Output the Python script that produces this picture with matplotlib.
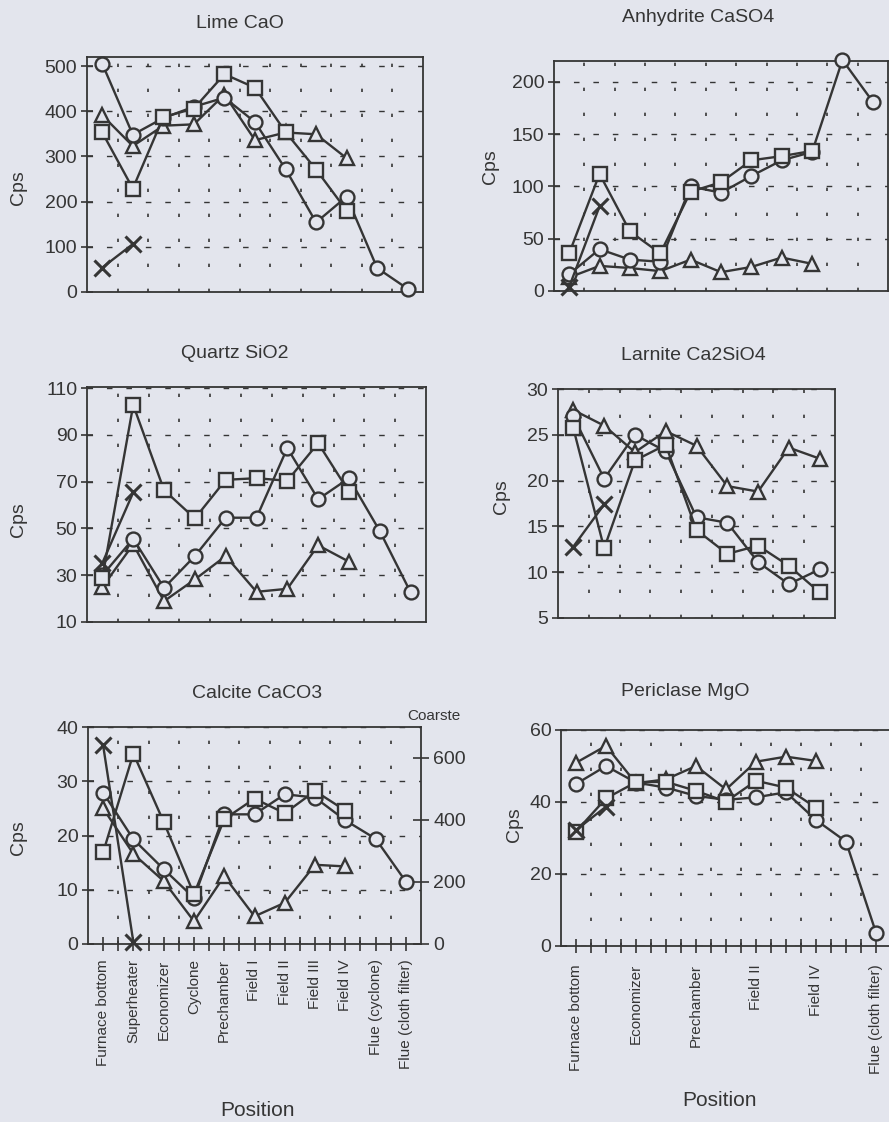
import numpy as np
import matplotlib
matplotlib.use("Agg")
import matplotlib.pyplot as plt
from matplotlib.ticker import FixedLocator

nan = np.nan

categories = ["Furnace bottom", "Superheater", "Economizer", "Cyclone", "Prechamber",
              "Field I", "Field II", "Field III", "Field IV", "Flue (cyclone)",
              "Flue (cloth filter)"]

# Lime CaO
lime_circle = [505, 348, 385, 410, 430, 376, 272, 154, 211, 53, 7]
lime_square = [353, 229, 387, 406, 482, 452, 354, 271, 180, nan, nan]
lime_triangle = [391, 323, 368, 371, 437, 336, 353, 349, 296, nan, nan]
lime_x = [54, 106, nan, nan, nan, nan, nan, nan, nan, nan, nan]

# Anhydrite CaSO4
anh_circle = [16, 40, 30, 28, 100, 94, 110, 125, 133, 221, 181]
anh_square = [36, 112, 57, 36, 95, 104, 125, 129, 134, nan, nan]
anh_triangle = [13, 24, 22, 19, 30, 18, 23, 32, 26, nan, nan]
anh_x = [4, 81, nan, nan, nan, nan, nan, nan, nan, nan, nan]

# Quartz SiO2
qtz_circle = [30, 45.6, 24.6, 38.2, 54.6, 54.6, 84.4, 62.5, 71.5, 48.9, 22.7]
qtz_square = [29, 102.8, 66.4, 54.3, 70.8, 71.5, 70.4, 86.5, 65.7, nan, nan]
qtz_triangle = [25, 43.2, 18.9, 28.2, 38.2, 22.9, 24.2, 42.8, 35.8, nan, nan]
qtz_x = [35.3, 65.4, nan, nan, nan, nan, nan, nan, nan, nan, nan]

# Larnite Ca2SiO4 (first 9 positions)
lar_circle = [27.0, 20.2, 25.0, 23.2, 16.0, 15.4, 11.1, 8.7, 10.3]
lar_square = [25.7, 12.6, 22.2, 23.9, 14.6, 12.0, 12.9, 10.7, 7.8]
lar_triangle = [27.7, 26.0, 23.1, 25.4, 23.8, 19.4, 18.8, 23.6, 22.4]
lar_x = [12.8, 17.4, nan, nan, nan, nan, nan, nan, nan]

# Calcite CaCO3
cal_circle = [27.9, 19.3, 13.8, 8.5, 23.9, 23.9, 27.6, 27.0, 22.8, 19.4, 11.5]
cal_square = [16.9, 35.1, 22.5, 9.2, 23.0, 26.8, 24.1, 28.2, 24.6, nan, nan]
cal_triangle = [25.0, 16.6, 11.6, 4.2, 12.5, 5.1, 7.6, 14.6, 14.3, nan, nan]
cal_x = [36.6, 0.3, nan, nan, nan, nan, nan, nan, nan, nan, nan]

# Periclase MgO
per_circle = [45.0, 50.0, 45.4, 44.0, 41.7, 40.6, 41.3, 42.7, 35.0, 29.0, 3.7]
per_square = [31.8, 41.0, 45.5, 45.6, 43.1, 40.1, 45.9, 44.0, 38.4, nan, nan]
per_triangle = [50.9, 55.6, 45.2, 46.3, 50.0, 43.5, 51.2, 52.6, 51.4, nan, nan]
per_x = [32.2, 38.7, nan, nan, nan, nan, nan, nan, nan, nan, nan]

coarse_ticks = [0, 200, 400, 600]

BG = "#e3e5ed"
INK = "#353535"
FONT = "Liberation Sans"
plt.rcParams["font.family"] = [FONT, "DejaVu Sans"]

W, H = 889, 1122
fig = plt.figure(figsize=(W / 100, H / 100), dpi=100, facecolor=BG)


def make_axes(left, right, top, bottom):
    return fig.add_axes([left / W, 1 - bottom / H, (right - left) / W, (bottom - top) / H])


def style_axes(ax, n, ylim, yticks, bottom_labels=None):
    ax.set_facecolor(BG)
    ax.set_xlim(-0.5, n - 0.5)
    ax.set_ylim(*ylim)
    ax.set_yticks(yticks)
    ax.tick_params(axis="y", direction="inout", length=8, width=1.2, colors=INK,
                   labelsize=14, pad=3)
    for s in ax.spines.values():
        s.set_color(INK)
        s.set_linewidth(1.3)
    ax.xaxis.set_minor_locator(FixedLocator(np.arange(n - 1) + 0.5))
    ax.set_xticks(np.arange(n))
    ax.grid(True, which="major", axis="y", color=INK, linestyle=(0, (4, 10)), linewidth=1.0)
    ax.grid(True, which="minor", axis="x", color=INK, linestyle=(0, (2, 13)), linewidth=1.2)
    if bottom_labels is None:
        ax.set_xticklabels([])
        ax.tick_params(axis="x", which="both", length=0)
    else:
        ax.set_xticklabels(bottom_labels, rotation=90, fontsize=11, color=INK)
        ax.tick_params(axis="x", which="both", direction="inout", length=10, width=1.2,
                       colors=INK, pad=6)
    for lab in ax.get_yticklabels():
        lab.set_color(INK)


def plot_series(ax, circle, square, triangle, cross):
    x = np.arange(len(circle))
    kw = dict(color=INK, linewidth=1.7, markeredgewidth=1.7, markerfacecolor=BG,
              markeredgecolor=INK, clip_on=False)
    ax.plot(x, triangle, marker="^", markersize=10, zorder=3, **kw)
    ax.plot(x, circle, marker="o", markersize=10, zorder=4, **kw)
    ax.plot(x, square, marker="s", markersize=10, zorder=5, **kw)
    ax.plot(x, cross, marker="x", markersize=11, zorder=6,
            **{**kw, "markeredgewidth": 2.2})


n_all = len(categories)

ax1 = make_axes(87, 423, 57, 292)
style_axes(ax1, n_all, (0, 520), [0, 100, 200, 300, 400, 500])
plot_series(ax1, lime_circle, lime_square, lime_triangle, lime_x)

ax2 = make_axes(554, 888, 61, 291)
style_axes(ax2, n_all, (0, 220), [0, 50, 100, 150, 200])
plot_series(ax2, anh_circle, anh_square, anh_triangle, anh_x)

ax3 = make_axes(87, 426, 387, 622)
style_axes(ax3, n_all, (10, 110.5), [10, 30, 50, 70, 90, 110])
plot_series(ax3, qtz_circle, qtz_square, qtz_triangle, qtz_x)

ax4 = make_axes(558, 835, 389, 618)
style_axes(ax4, len(lar_circle), (5, 30), [5, 10, 15, 20, 25, 30])
plot_series(ax4, lar_circle, lar_square, lar_triangle, lar_x)

ax5 = make_axes(88, 421, 727, 944)
style_axes(ax5, n_all, (0, 40), [0, 10, 20, 30, 40], bottom_labels=categories)
plot_series(ax5, cal_circle, cal_square, cal_triangle, cal_x)
ax5b = ax5.twinx()
ax5b.set_ylim(0, 700)
ax5b.set_yticks(coarse_ticks)
ax5b.tick_params(axis="y", direction="inout", length=12, width=1.2, colors=INK,
                 labelsize=14, pad=3)
for s in ax5b.spines.values():
    s.set_visible(False)

ax6 = make_axes(561, 891, 730, 946)
per_labels = [c if i % 2 == 0 else "" for i, c in enumerate(categories)]
style_axes(ax6, n_all, (0, 60), [0, 20, 40, 60], bottom_labels=per_labels)
ax6.tick_params(axis="x", pad=8)
plot_series(ax6, per_circle, per_square, per_triangle, per_x)


def ftext(x, y, s, **kw):
    kw.setdefault("ha", "center")
    kw.setdefault("va", "center")
    kw.setdefault("color", INK)
    fig.text(x / W, 1 - y / H, s, **kw)


ftext(240, 23, "Lime CaO", fontsize=14)
ftext(698, 18, "Anhydrite CaSO4", fontsize=14)
ftext(235, 353, "Quartz SiO2", fontsize=14)
ftext(693, 355, "Larnite Ca2SiO4", fontsize=14)
ftext(257, 693, "Calcite CaCO3", fontsize=14)
ftext(685, 692, "Periclase MgO", fontsize=14)

for (cx, cy) in [(19, 188), (490, 167), (19, 520), (502, 497), (18, 838), (515, 825)]:
    ftext(cx, cy, "Cps", fontsize=14, rotation=90)

ftext(407, 716, "Coarste", fontsize=11, ha="left")
ftext(257, 1110, "Position", fontsize=15)
ftext(720, 1101, "Position", fontsize=15)

fig.savefig("out.png", dpi=100, facecolor=BG)
